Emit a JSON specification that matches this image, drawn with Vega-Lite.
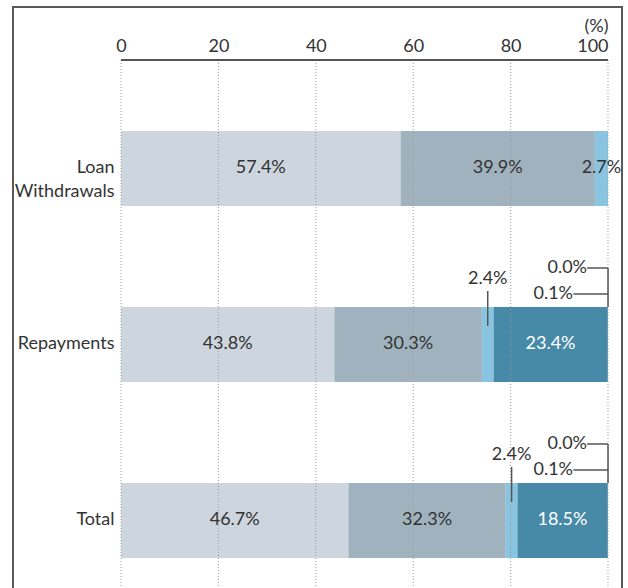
{
  "$schema": "https://vega.github.io/schema/vega-lite/v6.json",
  "width": 609,
  "height": 581,
  "autosize": {"type": "none"},
  "padding": {"left": 13, "top": 7, "right": 6, "bottom": 0},
  "background": "white",
  "config": {
    "view": {"stroke": "#5a5a5a", "strokeWidth": 2, "strokeDash": [1190, 609, 581]},
    "font": "Lato",
    "text": {"font": "Lato", "fontSize": 18, "color": "#333333"}
  },
  "data": {
    "values": [
      {"cat": "Loan Withdrawals", "seg": "a", "value": 0.574},
      {"cat": "Loan Withdrawals", "seg": "b", "value": 0.399},
      {"cat": "Loan Withdrawals", "seg": "c", "value": 0.027},
      {"cat": "Repayments", "seg": "a", "value": 0.438},
      {"cat": "Repayments", "seg": "b", "value": 0.303},
      {"cat": "Repayments", "seg": "c", "value": 0.024},
      {"cat": "Repayments", "seg": "d", "value": 0.234},
      {"cat": "Repayments", "seg": "e", "value": 0.001},
      {"cat": "Repayments", "seg": "f", "value": 0.0},
      {"cat": "Total", "seg": "a", "value": 0.467},
      {"cat": "Total", "seg": "b", "value": 0.323},
      {"cat": "Total", "seg": "c", "value": 0.024},
      {"cat": "Total", "seg": "d", "value": 0.185},
      {"cat": "Total", "seg": "e", "value": 0.001},
      {"cat": "Total", "seg": "f", "value": 0.0}
    ]
  },
  "layer": [
    {
      "mark": {"type": "bar"},
      "encoding": {
        "y": {
          "field": "cat", "type": "nominal",
          "scale": {"type": "band", "domain": ["Loan Withdrawals", "Repayments", "Total"], "paddingInner": 0.574, "paddingOuter": 0.4375, "align": 0.805},
          "axis": {
            "orient": "left", "offset": -108, "domain": false, "ticks": false, "tickSize": 0, "grid": false,
            "labelPadding": 7, "title": null, "labelFontSize": 18, "labelColor": "#333333", "labelFont": "Lato",
            "labelFontWeight": "normal", "labelLineHeight": 24, "labelLimit": 300,
            "labelExpr": "datum.value == 'Loan Withdrawals' ? ['Loan', 'Withdrawals'] : datum.label"
          }
        },
        "x": {
          "field": "value", "type": "quantitative", "stack": "zero",
          "scale": {"domain": [-0.2218, 1.0287], "nice": false, "zero": false},
          "axis": {
            "orient": "top", "offset": -53, "values": [0, 0.2, 0.4, 0.6, 0.8, 1],
            "labelExpr": "format(datum.value * 100, 'd')",
            "domain": false, "ticks": false, "grid": false, "labelPadding": 5,
            "labelFontSize": 18, "labelColor": "#333333", "labelFont": "Lato", "labelFontWeight": "normal",
            "labelAlign": {"condition": {"test": "datum.value == 1", "value": "right"}, "value": "center"},
            "title": "(%)", "titleX": 595, "titleY": -29, "titleAlign": "right", "titleAngle": 0,
            "titleBaseline": "alphabetic", "titleFontWeight": "normal", "titleFontSize": 18,
            "titleColor": "#333333", "titleFont": "Lato"
          }
        },
        "color": {
          "field": "seg", "type": "nominal",
          "scale": {"domain": ["a", "b", "c", "d", "e", "f"], "range": ["#cdd6de", "#9fb2bd", "#89c4e1", "#478aa8", "#2f6f8f", "#2f6f8f"]},
          "legend": null
        },
        "order": {"field": "seg", "sort": "ascending"}
      }
    },
    {
      "data": {"values": [{"t": 0}, {"t": 0.2}, {"t": 0.4}, {"t": 0.6}, {"t": 0.8}, {"t": 1}]},
      "mark": {"type": "rule", "color": "#9a9a9a", "strokeWidth": 1, "strokeDash": [1, 2]},
      "encoding": {
        "x": {"field": "t", "type": "quantitative"},
        "y": {"datum": "Loan Withdrawals", "bandPosition": -0.9467},
        "y2": {"datum": "Total", "bandPosition": 1.6}
      }
    },
    {
      "data": {"values": [{"t": 0}]},
      "mark": {"type": "rule", "color": "#555555", "strokeWidth": 2},
      "encoding": {
        "x": {"datum": 0},
        "x2": {"datum": 1},
        "y": {"datum": "Loan Withdrawals", "bandPosition": -0.9467}
      }
    },
    {
      "mark": {"type": "text", "baseline": "middle", "align": "center"},
      "encoding": {
        "y": {"field": "cat", "type": "nominal"},
        "x": {"field": "value", "type": "quantitative", "stack": "zero", "bandPosition": 0.5},
        "detail": {"field": "seg"},
        "order": {"field": "seg", "sort": "ascending"},
        "text": {"condition": {"test": "datum.value > 0.025", "field": "value", "format": ".1%"}, "value": ""},
        "color": {"condition": {"test": "datum.seg == 'd'", "value": "white"}, "value": "#333333"}
      }
    },
    {
      "mark": {"type": "text", "baseline": "middle", "align": "center", "dy": -28},
      "encoding": {
        "y": {"field": "cat", "type": "nominal", "bandPosition": 0},
        "x": {"field": "value", "type": "quantitative", "stack": "zero", "bandPosition": 0.5},
        "detail": {"field": "seg"},
        "order": {"field": "seg", "sort": "ascending"},
        "text": {"condition": {"test": "datum.seg == 'c' && datum.cat != 'Loan Withdrawals'", "field": "value", "format": ".1%"}, "value": ""}
      }
    },
    {
      "mark": {"type": "rule", "color": "#555555", "strokeWidth": 1.5},
      "encoding": {
        "y": {"field": "cat", "type": "nominal", "bandPosition": -0.213},
        "y2": {"field": "cat", "bandPosition": 0.253},
        "x": {"field": "value", "type": "quantitative", "stack": "zero", "bandPosition": 0.5},
        "detail": {"field": "seg"},
        "order": {"field": "seg", "sort": "ascending"},
        "opacity": {"condition": {"test": "datum.seg == 'c' && datum.cat != 'Loan Withdrawals'", "value": 1}, "value": 0}
      }
    },
    {
      "transform": [{"filter": "datum.seg == 'e'"}],
      "mark": {"type": "text", "baseline": "middle", "align": "right", "dx": -35, "dy": -13},
      "encoding": {
        "y": {"field": "cat", "type": "nominal", "bandPosition": 0},
        "x": {"datum": 1},
        "text": {"field": "value", "format": ".1%"}
      }
    },
    {
      "transform": [{"filter": "datum.seg == 'f'"}],
      "mark": {"type": "text", "baseline": "middle", "align": "right", "dx": -21, "dy": -39},
      "encoding": {
        "y": {"field": "cat", "type": "nominal", "bandPosition": 0},
        "x": {"datum": 1},
        "text": {"field": "value", "format": ".1%"}
      }
    },
    {
      "transform": [{"filter": "datum.seg == 'e'"}],
      "mark": {"type": "rule", "color": "#555555", "strokeWidth": 1.5},
      "encoding": {
        "y": {"field": "cat", "type": "nominal", "bandPosition": -0.173},
        "x": {"datum": 0.929},
        "x2": {"datum": 1}
      }
    },
    {
      "transform": [{"filter": "datum.seg == 'f'"}],
      "mark": {"type": "rule", "color": "#555555", "strokeWidth": 1.5},
      "encoding": {
        "y": {"field": "cat", "type": "nominal", "bandPosition": -0.52},
        "x": {"datum": 0.957},
        "x2": {"datum": 1}
      }
    },
    {
      "transform": [{"filter": "datum.seg == 'f'"}],
      "mark": {"type": "rule", "color": "#555555", "strokeWidth": 1.5},
      "encoding": {
        "y": {"field": "cat", "type": "nominal", "bandPosition": -0.52},
        "y2": {"field": "cat", "bandPosition": 0},
        "x": {"datum": 1}
      }
    }
  ]
}
